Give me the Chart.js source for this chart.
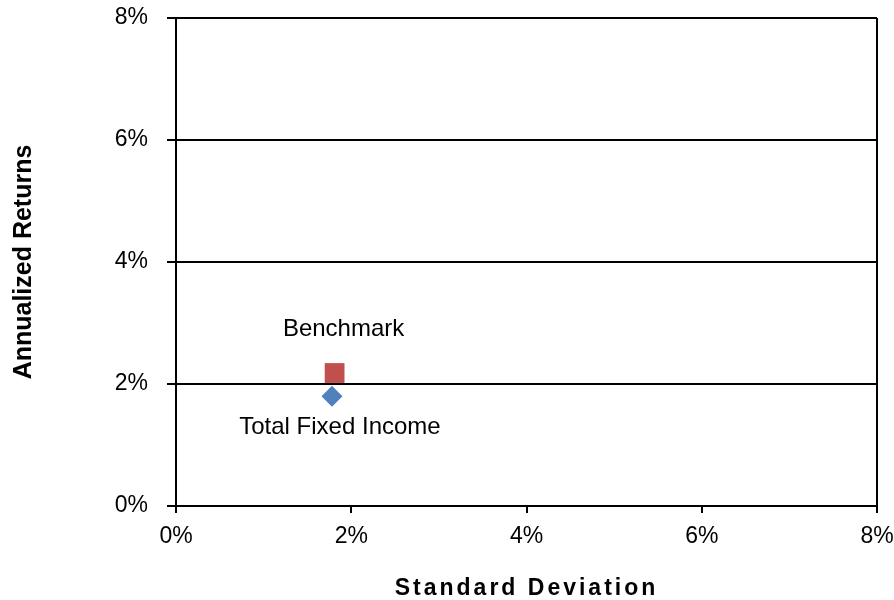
<!DOCTYPE html>
<html>
<head>
<meta charset="utf-8">
<script src="https://cdn.jsdelivr.net/npm/chart.js@4/dist/chart.umd.min.js"></script>
<style>
  html, body { margin: 0; padding: 0; background: #ffffff; }
  #wrap { width: 894px; height: 600px; }
</style>
</head>
<body>
<div id="wrap"><canvas id="chart" width="894" height="600"></canvas></div>
<script>
// Risk / return points: standard deviation (x) vs annualized return (y), in percent
const seriesNames = ['Total Fixed Income', 'Benchmark'];
const stdDev = [1.78, 1.81];
const annualReturn = [1.80, 2.18];
const xTickValues = [0, 2, 4, 6, 8];
const yTickValues = [0, 2, 4, 6, 8];

const pointColors = ['#4F81BD', '#C0504D'];
const pointShapes = ['rectRot', 'rect'];
const pointRadii = [10.5, 14];
// label placement relative to each point (pixels)
const labelOffsets = [{ dx: 8, dy: 31 }, { dx: 9, dy: -44 }];

const FONT = '"Liberation Sans", Arial, sans-serif';

const datasets = seriesNames.map((name, i) => ({
  label: name,
  data: [{ x: stdDev[i], y: annualReturn[i] }],
  pointStyle: pointShapes[i],
  pointRadius: pointRadii[i],
  pointHoverRadius: pointRadii[i],
  backgroundColor: pointColors[i],
  borderColor: pointColors[i],
  borderWidth: 0
}));

// writes each series name next to its point
const pointLabels = {
  id: 'pointLabels',
  afterDatasetsDraw(chart) {
    const ctx = chart.ctx;
    ctx.save();
    ctx.font = '24px ' + FONT;
    ctx.fillStyle = '#000000';
    ctx.textAlign = 'center';
    ctx.textBaseline = 'middle';
    chart.data.datasets.forEach((ds, i) => {
      const el = chart.getDatasetMeta(i).data[0];
      ctx.fillText(ds.label, el.x + labelOffsets[i].dx, el.y + labelOffsets[i].dy);
    });
    ctx.restore();
  }
};

// the horizontal axis title is set with wider letter spacing
const spacedXTitle = {
  id: 'spacedXTitle',
  afterLayout(chart) {
    const s = chart.scales.x;
    if (s._spaced) return;
    const orig = s.drawTitle.bind(s);
    s.drawTitle = function (area) {
      const ctx = this.ctx;
      ctx.save();
      ctx.letterSpacing = '3px';
      orig(area);
      ctx.restore();
    };
    s._spaced = true;
  }
};

new Chart(document.getElementById('chart'), {
  type: 'scatter',
  data: { datasets },
  options: {
    responsive: false,
    animation: false,
    layout: { padding: { top: 18, right: 17, left: 0, bottom: 0 } },
    plugins: {
      legend: { display: false },
      tooltip: { enabled: false }
    },
    scales: {
      x: {
        type: 'linear',
        min: xTickValues[0],
        max: xTickValues[xTickValues.length - 1],
        afterBuildTicks: s => { s.ticks = xTickValues.map(v => ({ value: v })); },
        afterFit: s => { s.height = 94; s.paddingLeft = 0; s.paddingRight = 0; },
        ticks: {
          callback: v => v + '%',
          font: { family: FONT, size: 23 },
          color: '#000000',
          padding: 10,
          maxRotation: 0
        },
        grid: {
          drawOnChartArea: true,
          color: c => (c.index === xTickValues.length - 1 ? '#000000' : 'rgba(0,0,0,0)'),
          tickColor: '#000000',
          tickLength: 7,
          lineWidth: 2
        },
        border: { display: true, color: '#000000', width: 2 },
        title: {
          display: true,
          text: 'Standard Deviation',
          font: { family: FONT, size: 23, weight: 'bold' },
          color: '#000000',
          padding: { top: 0, bottom: -2 }
        }
      },
      y: {
        type: 'linear',
        min: yTickValues[0],
        max: yTickValues[yTickValues.length - 1],
        afterBuildTicks: s => { s.ticks = yTickValues.map(v => ({ value: v })); },
        afterFit: s => { s.width = 176; s.paddingTop = 0; s.paddingBottom = 0; },
        ticks: {
          callback: v => v + '%',
          font: { family: FONT, size: 23 },
          color: '#000000',
          padding: 19
        },
        grid: {
          color: '#000000',
          tickColor: '#000000',
          tickLength: 9,
          lineWidth: 2
        },
        border: { display: true, color: '#000000', width: 2 },
        title: {
          display: true,
          text: 'Annualized Returns',
          font: { family: FONT, size: 25, weight: 'bold' },
          color: '#000000',
          padding: { top: 9, bottom: 0 }
        }
      }
    }
  },
  plugins: [pointLabels, spacedXTitle]
});
</script>
</body>
</html>
